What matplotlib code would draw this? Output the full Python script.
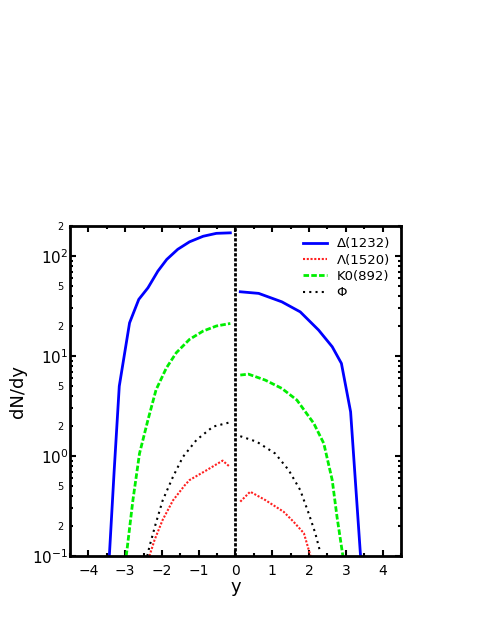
import matplotlib
matplotlib.use("Agg")
import math
import matplotlib.pyplot as plt
from matplotlib.ticker import FixedLocator, FuncFormatter

plt.rcParams['font.family'] = 'DejaVu Sans'
plt.rcParams['mathtext.fontset'] = 'dejavusans'

# Delta(1232)
delta_left_y = [-3.43, -3.30, -3.16, -2.88, -2.63, -2.38, -2.11, -1.87, -1.57, -1.25, -0.88, -0.52, -0.14]
delta_left = [0.1, 0.7, 5.0, 21.5, 36.9, 48.2, 70.8, 92.6, 117, 139, 158, 169, 171]
delta_right_y = [0.13, 0.63, 1.26, 1.76, 2.26, 2.63, 2.88, 3.13, 3.40]
delta_right = [44, 42.4, 34.9, 27.7, 18.2, 12.4, 8.45, 2.77, 0.1]

# Lambda(1520)
lambda_left_y = [-2.34, -2.20, -1.98, -1.70, -1.38, -1.25, -0.79, -0.35, -0.17]
lambda_left = [0.1, 0.145, 0.23, 0.36, 0.51, 0.575, 0.72, 0.90, 0.79]
lambda_right_y = [0.13, 0.40, 0.81, 1.31, 1.58, 1.86, 2.04]
lambda_right = [0.35, 0.44, 0.363, 0.277, 0.22, 0.169, 0.1]

# K0(892)
k0_left_y = [-2.97, -2.79, -2.61, -2.38, -2.16, -1.88, -1.61, -1.25, -0.88, -0.52, -0.14]
k0_left = [0.1, 0.36, 1.06, 2.3, 4.6, 7.6, 10.8, 14.7, 17.8, 20.0, 21.2]
k0_right_y = [0.13, 0.35, 0.81, 1.26, 1.67, 2.13, 2.40, 2.63, 2.76, 2.92]
k0_right = [6.46, 6.6, 5.75, 4.75, 3.63, 2.12, 1.34, 0.575, 0.247, 0.1]

# Phi
phi_left_y = [-2.40, -2.34, -2.17, -1.98, -1.70, -1.43, -1.06, -0.61, -0.16]
phi_left = [0.1, 0.124, 0.21, 0.36, 0.62, 0.98, 1.45, 1.97, 2.17]
phi_right_y = [0.13, 0.58, 1.08, 1.45, 1.76, 1.99, 2.17, 2.31]
phi_right = [1.58, 1.39, 1.06, 0.72, 0.457, 0.267, 0.169, 0.107]

x_ticks = [-4, -3, -2, -1, 0, 1, 2, 3, 4]
y_major = [0.1, 1, 10, 100]
y_major_labels = ['$10^{-1}$', '$10^{0}$', '$10^{1}$', '$10^{2}$']

fig = plt.figure(figsize=(4.85, 6.27), dpi=100)
ax = fig.add_axes([0.1443, 0.1132, 0.6825, 0.5263])

series = [
    ('\u0394(1232)', delta_left_y, delta_left, delta_right_y, delta_right,
     dict(color='#0000ff', lw=2.0, ls='-')),
    ('\u039b(1520)', lambda_left_y, lambda_left, lambda_right_y, lambda_right,
     dict(color='#ff2020', lw=1.5, ls=(0, (1, 0.8)))),
    ('K0(892)', k0_left_y, k0_left, k0_right_y, k0_right,
     dict(color='#00ee00', lw=2.0, ls=(0, (2, 0.8)))),
    ('\u03a6', phi_left_y, phi_left, phi_right_y, phi_right,
     dict(color='black', lw=1.5, ls=(0, (1, 2)))),
]
for name, xl, yl, xr, yr, style in series:
    ax.plot(xl, yl, label=name, **style)
    ax.plot(xr, yr, **style)

# divider at y = 0
ax.axvline(0, color='black', lw=2.0, ls=(0, (1.2, 0.6)))

ax.set_yscale('log')
ax.set_xlim(-4.5, 4.5)
ax.set_ylim(0.1, 200)

ax.xaxis.set_major_locator(FixedLocator(x_ticks))
ax.xaxis.set_minor_locator(FixedLocator([v + 0.5 for v in range(-5, 5)]))
ax.yaxis.set_major_locator(FixedLocator(y_major))
ax.yaxis.set_major_formatter(FuncFormatter(lambda v, p: y_major_labels[y_major.index(v)] if v in y_major else ''))

minor = [m * 10.0 ** e for e in range(-1, 3) for m in range(2, 10) if m * 10.0 ** e <= 200]
ax.yaxis.set_minor_locator(FixedLocator(minor))


def minor_fmt(v, p):
    lead = round(v / 10 ** math.floor(math.log10(v) + 1e-9))
    return str(lead) if lead in (2, 5) else ''


ax.yaxis.set_minor_formatter(FuncFormatter(minor_fmt))

ax.tick_params(which='both', direction='in', top=True, right=True, width=1.5)
ax.tick_params(which='major', length=4)
ax.tick_params(which='minor', length=2)
ax.tick_params(axis='y', which='major', labelsize=11, pad=1)
ax.tick_params(axis='y', which='minor', labelsize=7, pad=5)
ax.tick_params(axis='x', which='major', labelsize=10, pad=6)
for s in ax.spines.values():
    s.set_linewidth(2)

ax.set_xlabel('y', fontsize=13, labelpad=0)
ax.set_ylabel('dN/dy', fontsize=13, labelpad=4)

ax.legend(loc='upper right', frameon=False, fontsize=9.5, handlelength=1.8,
          handletextpad=0.7, labelspacing=0.25, borderaxespad=0.45)

fig.savefig('out.png', dpi=100)
